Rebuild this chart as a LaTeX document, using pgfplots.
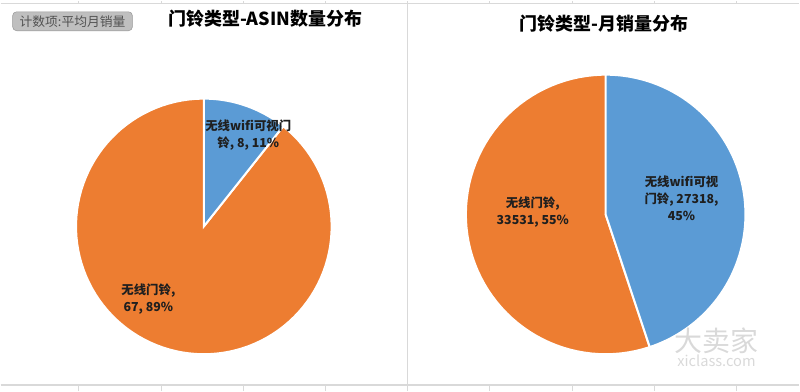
\documentclass[border=0pt]{standalone}
\usepackage{pgfplots}
\pgfplotsset{compat=1.18}
\usepackage{fontspec}
\setmainfont{Noto Sans CJK SC}
\definecolor{pieblue}{HTML}{5B9BD5}
\definecolor{pieorange}{HTML}{ED7D31}
\definecolor{gridc}{HTML}{D9D9D9}
% data
\def\Aa{8}\def\Ab{67}        % ASIN count: wifi video, wireless
\def\Ba{27318}\def\Bb{33531} % monthly sales: wifi video, wireless
\edef\angA{\fpeval{round(90-360*\Aa/(\Aa+\Ab),4)}}
\edef\angB{\fpeval{round(90-360*\Ba/(\Ba+\Bb),4)}}
\edef\angAm{\fpeval{\angA-360}}
\edef\angBm{\fpeval{\angB-360}}
\begin{document}
\begin{tikzpicture}
\begin{axis}[
  scale only axis, width=600pt, height=293.25pt,
  xmin=0, xmax=800, ymin=0, ymax=391,
  hide axis, clip=false,
]
\path (rel axis cs:0,0) rectangle (rel axis cs:1,1);
% spreadsheet grid
\draw[gridc, line width=1pt] (0,388) -- (800,388);
\draw[gridc, line width=1pt] (0,6) -- (800,6);
\draw[gridc, line width=1.2pt] (407.5,0) -- (407.5,391);
\pgfplotsforeachungrouped \x in {78,161,243,325,490,573,655,737} {
  \edef\tmp{\noexpand\draw[gridc, line width=0.8pt] (\x,388) -- (\x,391);
    \noexpand\draw[gridc, line width=0.8pt] (\x,0) -- (\x,6);}
  \tmp
}
% left pie
\addplot[fill=pieorange, draw=white, line width=1.5pt, domain=\angAm:\angA, samples=120, variable=\t]
  ({203.5+128*cos(\t)},{165+128*sin(\t)}) -- (203.5,165) -- cycle;
\addplot[fill=pieblue, draw=white, line width=1.5pt, domain=\angA:90, samples=40, variable=\t]
  ({203.5+128*cos(\t)},{165+128*sin(\t)}) -- (203.5,165) -- cycle;
% right pie
\addplot[fill=pieorange, draw=white, line width=1.5pt, domain=\angBm:\angB, samples=120, variable=\t]
  ({606+140*cos(\t)},{177+140*sin(\t)}) -- (606,177) -- cycle;
\addplot[fill=pieblue, draw=white, line width=1.5pt, domain=\angB:90, samples=100, variable=\t]
  ({606+140*cos(\t)},{177+140*sin(\t)}) -- (606,177) -- cycle;
% titles
\node[font=\fontsize{13.5}{16}\selectfont\bfseries, black] at (265,373) {门铃类型-ASIN数量分布};
\node[font=\fontsize{13.5}{16}\selectfont\bfseries, black] at (604,368) {门铃类型-月销量分布};
% field button
\draw[rounded corners=3pt, fill=black!25, draw=black!40] (12,361) rectangle (132,380);
\node[font=\fontsize{9.6}{11}\selectfont, text=black!68] at (72,370.5) {计数项:平均月销量};
% data labels
\begin{scope}[every node/.style={font=\fontsize{9.3}{12.75}\selectfont\bfseries, text=black!88, align=center}]
\node at (248,256.5) {无线wifi可视门\\铃, \Aa, 11\%};
\node at (148,92) {无线门铃,\\\Ab, 89\%};
\node at (682,193.5) {无线wifi可视\\门铃, \Ba,\\45\%};
\node at (533,179.5) {无线门铃,\\\Bb, 55\%};
\end{scope}
% watermark
\node[font=\fontsize{21}{23}\selectfont, text=black!15] at (717,50) {大卖家};
\node[font=\fontsize{11}{12}\selectfont, text=black!15] at (717,30) {xiclass.com};
\end{axis}
\end{tikzpicture}
\end{document}
